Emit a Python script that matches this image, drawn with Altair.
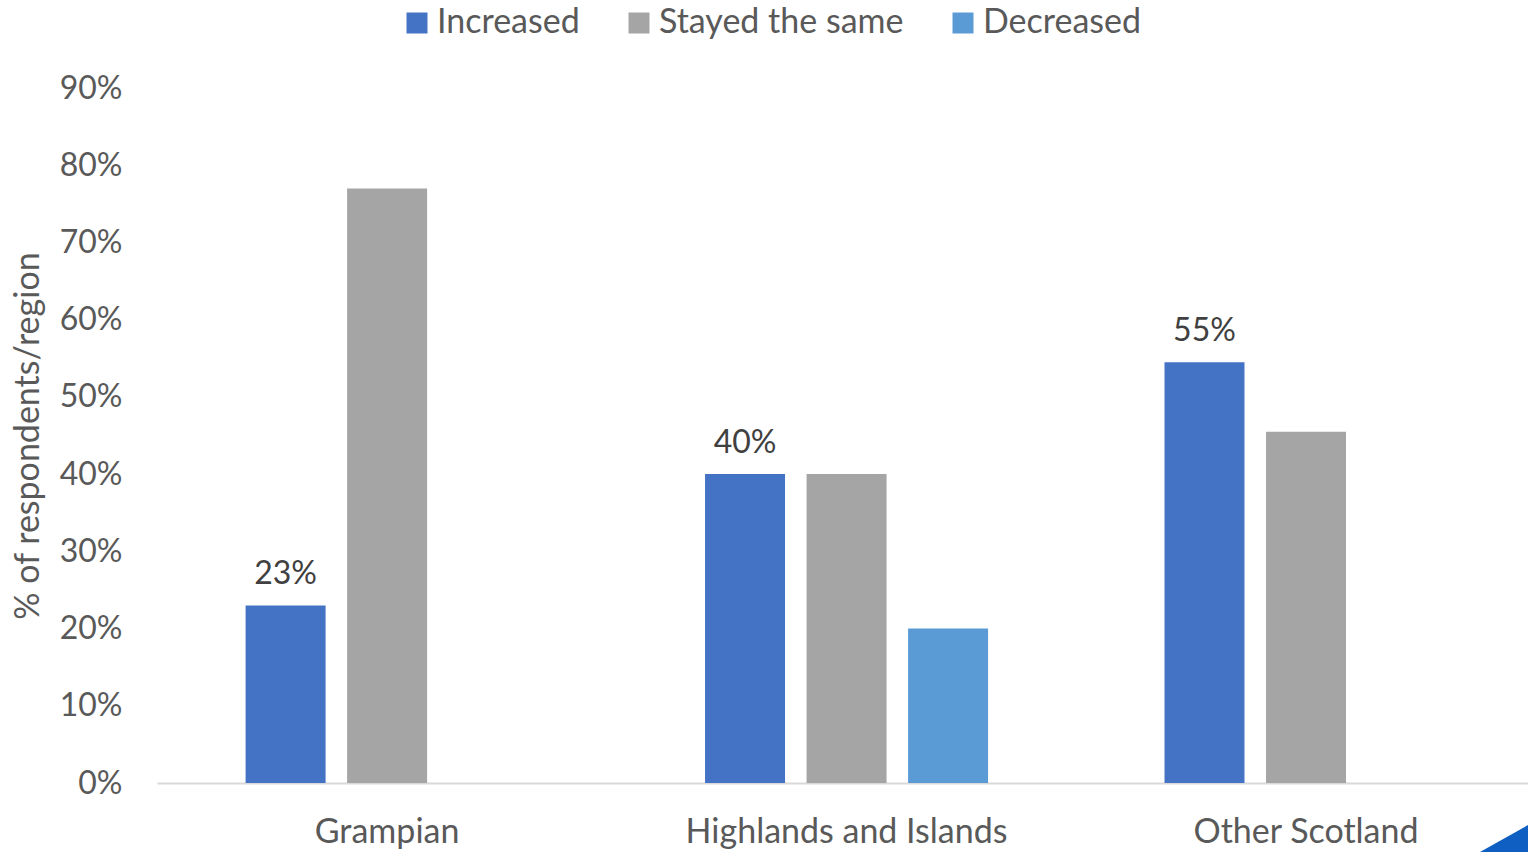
import altair as alt
import pandas as pd

regions = ["Grampian", "Highlands and Islands", "Other Scotland"]
series = ["Increased", "Stayed the same", "Decreased"]
increased = [0.23, 0.40, 0.545]
stayed = [0.77, 0.40, 0.455]
decreased = [0.0, 0.20, 0.0]
colors = ["#4472C4", "#A5A5A5", "#5B9BD5"]
y_ticks = [0, 0.1, 0.2, 0.3, 0.4, 0.5, 0.6, 0.7, 0.8, 0.9]

rows = []
for i, r in enumerate(regions):
    for s, vals in zip(series, [increased, stayed, decreased]):
        rows.append({"region": r, "series": s, "value": vals[i]})
df = pd.DataFrame(rows)

FONT = "Lato"
FS = 34

base = alt.Chart(df).encode(
    x=alt.X("region:N", sort=regions,
            scale=alt.Scale(paddingInner=0.384, paddingOuter=0.184, align=0.524),
            axis=alt.Axis(title=None, labelAngle=0, ticks=False, labelFontSize=FS,
                          labelColor="#595959", domainColor="#D9D9D9", domainWidth=2,
                          labelPadding=32, labelFont=FONT, labelLimit=600)),
    xOffset=alt.XOffset("series:N", sort=series,
                        scale=alt.Scale(domain=series, paddingInner=0.212, paddingOuter=0)),
)

bars = base.mark_bar().encode(
    y=alt.Y("value:Q", scale=alt.Scale(domain=[0, 0.9], nice=False),
            axis=alt.Axis(values=y_ticks, format=".0%", grid=False, domain=False, ticks=False,
                          labelFontSize=32, labelColor="#595959", labelPadding=35,
                          labelFont=FONT,
                          title="% of respondents/region", titleFontSize=FS,
                          titleColor="#595959", titleFontWeight="normal", titleFont=FONT,
                          titlePadding=14)),
    color=alt.Color("series:N", sort=series,
                    scale=alt.Scale(domain=series, range=colors),
                    legend=alt.Legend(title=None, orient="none", direction="horizontal",
                                      legendX=243, legendY=-82, symbolType="square",
                                      symbolSize=441, symbolStrokeWidth=0,
                                      labelFontSize=FS, labelColor="#595959",
                                      labelFont=FONT, labelOffset=3, columnPadding=42,
                                      labelLimit=600, padding=0)),
)

labels = base.transform_filter(alt.datum.series == "Increased").mark_text(
    baseline="alphabetic", dy=-21, fontSize=32, color="#404040", font=FONT
).encode(
    y="value:Q",
    text=alt.Text("value:Q", format=".0%"),
)

corner = alt.Chart(alt.Data(values=[{"k": 1}])).mark_point(
    shape="M -1 0.5625 L 1 -0.5625 L 1 0.5625 Z", filled=True, opacity=1,
    color="#0F5FC2", strokeWidth=0
).encode(x=alt.value(1347), y=alt.value(750.5), size=alt.value(2304))

chart = alt.layer(bars, labels, corner).properties(
    width=1371, height=695,
    autosize=alt.AutoSizeParams(type="none"),
    padding={"left": 157, "top": 88, "right": 0, "bottom": 69},
).configure(font=FONT).configure_view(strokeWidth=0, stroke="transparent")

chart.save("out.html", embed_options={"renderer": "svg", "actions": False})
